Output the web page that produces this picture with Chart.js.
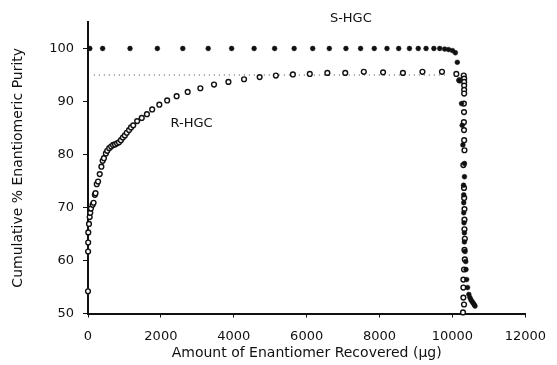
<!DOCTYPE html>
<html>
<head>
<meta charset="utf-8">
<script src="https://cdn.jsdelivr.net/npm/chart.js@4.4.1/dist/chart.umd.min.js"></script>
<style>
    html, body { margin: 0; padding: 0; background: #fff; }
    canvas { display: block; }
</style>
</head>
<body>
<canvas id="purityChart" width="557" height="365"></canvas>
<script>
    // S-HGC (filled dots)
    const shgcX = [50, 402, 1153, 1903, 2601, 3298, 3941, 4558, 5121, 5657, 6166, 6622, 7078, 7480, 7855, 8204, 8525, 8820, 9062, 9276, 9491, 9651,
        9786, 9893, 10000, 10080, 10134, 10180, 10250, 10268, 10287, 10330, 10330, 10305, 10310, 10310, 10310, 10318, 10328, 10328, 10345, 10365,
        10372, 10390, 10415, 10450, 10480, 10505, 10535, 10565, 10595, 10620];
    const shgcY = [100, 100, 100, 100, 100, 100, 100, 100, 100, 100, 100, 100, 100, 100, 100, 100, 100, 100, 100, 100, 100, 100,
        99.9, 99.8, 99.6, 99.2, 97.4, 94.0, 89.6, 85.5, 81.8, 78.3, 75.8, 74.2, 72.4, 70.9, 69.0, 67.1, 65.2, 63.5, 61.7, 59.8,
        58.3, 56.4, 54.9, 53.6, 53.0, 52.6, 52.3, 52.0, 51.7, 51.4];

    // R-HGC (open circles)
    const rhgcX = [0, 3, 5, 8, 27, 46, 62, 80, 126, 153, 188, 206, 241, 276, 322, 367, 402, 437, 491, 528, 582, 635, 689, 743, 796, 850,
        903, 957, 1011, 1064, 1126, 1180, 1241, 1349, 1475, 1617, 1761, 1957, 2172, 2432, 2735, 3083, 3458, 3853, 4282, 4710, 5155, 5622,
        6086, 6568, 7059, 7568, 8097, 8641, 9177, 9713, 10107, 10196,
        10310, 10322, 10322, 10322, 10322, 10322, 10314, 10318, 10314, 10318, 10322, 10330, 10300, 10318, 10322, 10330, 10330, 10330,
        10340, 10330, 10340, 10318, 10300, 10300, 10300, 10318, 10290];
    const rhgcY = [54.2, 61.7, 63.4, 65.3, 66.9, 68.2, 69.0, 69.8, 70.5, 70.9, 72.4, 72.7, 74.4, 74.9, 76.3, 77.7, 78.8, 79.3, 80.2, 80.7,
        81.2, 81.5, 81.8, 81.9, 82.1, 82.3, 82.7, 83.2, 83.6, 84.1, 84.6, 85.1, 85.5, 86.3, 86.9, 87.6, 88.5, 89.4, 90.2, 91.0, 91.8, 92.5,
        93.2, 93.7, 94.2, 94.6, 94.9, 95.1, 95.2, 95.4, 95.4, 95.6, 95.5, 95.4, 95.6, 95.6, 95.2, 94.0,
        94.9, 94.3, 93.7, 93.0, 92.2, 91.5, 89.6, 88.0, 86.1, 84.6, 82.7, 80.8, 78.0, 73.7, 71.8, 69.7, 67.7, 65.9,
        64.1, 62.0, 60.2, 58.3, 56.4, 54.9, 53.0, 51.7, 50.2];

    // 95 % reference line
    const refX = [160, 9900];
    const refY = [95, 95];

    const xTicks = [0, 2000, 4000, 6000, 8000, 10000, 12000];
    const yTicks = [50, 60, 70, 80, 90, 100];

    const seriesLabels = [
        { text: "S-HGC", x: 7212, y: 105.6 },
        { text: "R-HGC", x: 2842, y: 85.9 }
    ];

    const toPoints = (xs, ys) => xs.map((x, i) => ({ x: x, y: ys[i] }));
    const FONT = "'DejaVu Sans', sans-serif";

    const labelPlugin = {
        id: "seriesLabels",
        afterDraw(chart) {
            const ctx = chart.ctx;
            const xs = chart.scales.x, ys = chart.scales.y;
            ctx.save();
            ctx.fillStyle = "#111";
            ctx.font = "13px " + FONT;
            ctx.textAlign = "center";
            ctx.textBaseline = "middle";
            seriesLabels.forEach(l => ctx.fillText(l.text, xs.getPixelForValue(l.x), ys.getPixelForValue(l.y)));
            ctx.restore();
        }
    };

    function initChart() {
        const ctx = document.getElementById("purityChart");

        new Chart(ctx.getContext("2d"), {
            type: "scatter",
            data: {
                datasets: [
                    {
                        label: "S-HGC",
                        data: toPoints(shgcX, shgcY),
                        pointRadius: 2.4,
                        pointBackgroundColor: "#111",
                        pointBorderColor: "#111",
                        pointBorderWidth: 0.5,
                        showLine: false,
                        clip: false
                    },
                    {
                        label: "R-HGC",
                        data: toPoints(rhgcX, rhgcY),
                        pointRadius: 2.4,
                        pointBackgroundColor: "#fff",
                        pointBorderColor: "#111",
                        pointBorderWidth: 1.4,
                        showLine: false,
                        clip: false
                    },
                    {
                        label: "95%",
                        data: toPoints(refX, refY),
                        showLine: true,
                        borderColor: "#444",
                        borderWidth: 1,
                        borderDash: [1, 4],
                        pointRadius: 0
                    }
                ]
            },
            options: {
                responsive: false,
                animation: false,
                layout: { padding: { top: 22, right: 22, left: 0, bottom: 0 } },
                plugins: { legend: { display: false }, tooltip: { enabled: false } },
                scales: {
                    x: {
                        type: "linear",
                        min: 0,
                        max: 12000,
                        afterBuildTicks: s => { s.ticks = xTicks.map(v => ({ value: v })); },
                        afterFit: s => { s.height = 51.5; },
                        grid: { drawOnChartArea: false, drawTicks: true, tickLength: 4, color: "#111" },
                        border: { display: true, color: "#111", width: 2 },
                        ticks: { color: "#111", font: { family: FONT, size: 13 }, padding: 11, maxRotation: 0, callback: v => String(v) },
                        title: { display: true, text: "Amount of Enantiomer Recovered (\u00b5g)", color: "#111", font: { family: FONT, size: 14 }, padding: { top: 0, bottom: 3 } }
                    },
                    y: {
                        type: "linear",
                        min: 50,
                        max: 105,
                        afterBuildTicks: s => { s.ticks = yTicks.map(v => ({ value: v })); },
                        afterFit: s => { s.width = 88; },
                        grid: { drawOnChartArea: false, drawTicks: true, tickLength: 5, color: "#111" },
                        border: { display: true, color: "#111", width: 2 },
                        ticks: { color: "#111", font: { family: FONT, size: 13 }, padding: 9, callback: v => String(v) },
                        title: { display: true, text: "Cumulative % Enantiomeric Purity", color: "#111", font: { family: FONT, size: 14 }, padding: { top: 10, bottom: 0 } }
                    }
                }
            },
            plugins: [labelPlugin]
        });
    }

    initChart();
</script>
</body>
</html>
